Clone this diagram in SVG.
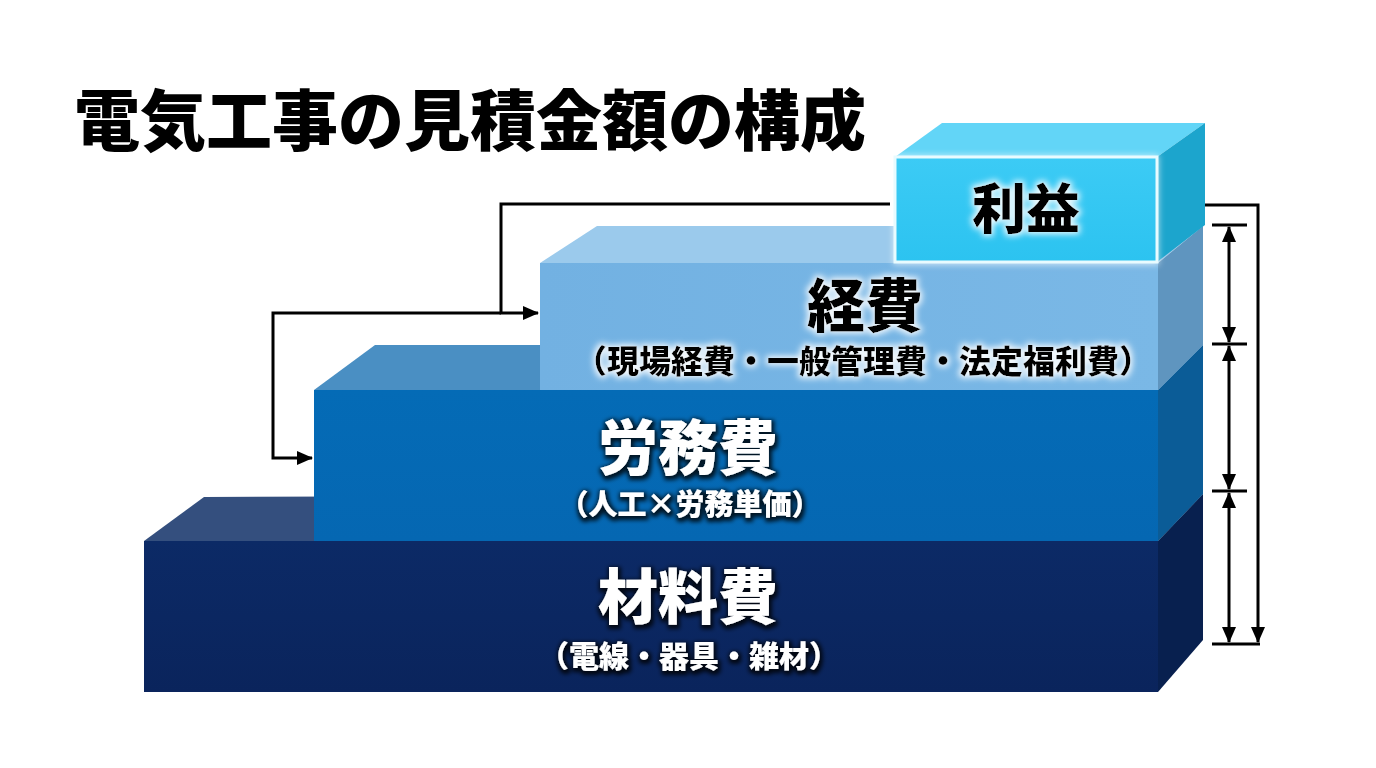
<svg xmlns="http://www.w3.org/2000/svg" width="1376" height="768" viewBox="0 0 1376 768">
<style>
.jp{font-family:"Noto Sans CJK JP","Noto Sans",sans-serif;font-weight:900;text-anchor:middle}
.blk{fill:#000}
.wht{fill:#fff}
.ln{fill:none;stroke:#000;stroke-width:3}
</style>
<defs>
<marker id="ah" viewBox="0 0 16 14" refX="15" refY="7" markerWidth="16" markerHeight="14" markerUnits="userSpaceOnUse" orient="auto-start-reverse">
<path d="M0,0 L16,7 L0,14 z" fill="#000"/>
</marker>
<filter id="glowW" x="-20%" y="-40%" width="140%" height="180%">
<feMorphology in="SourceAlpha" operator="dilate" radius="2" result="d"/>
<feGaussianBlur in="d" stdDeviation="3" result="b"/>
<feFlood flood-color="#ffffff" flood-opacity="0.9"/>
<feComposite in2="b" operator="in" result="g"/>
<feMerge><feMergeNode in="g"/><feMergeNode in="SourceGraphic"/></feMerge>
</filter>
<filter id="shadowD" x="-20%" y="-40%" width="140%" height="180%">
<feMorphology in="SourceAlpha" operator="dilate" radius="1.5" result="d"/>
<feGaussianBlur in="d" stdDeviation="2" result="b"/>
<feOffset in="b" dx="1" dy="2" result="o"/>
<feFlood flood-color="#000000" flood-opacity="0.8"/>
<feComposite in2="o" operator="in" result="g"/>
<feMerge><feMergeNode in="g"/><feMergeNode in="SourceGraphic"/></feMerge>
</filter>
<filter id="boxGlow" x="-10%" y="-20%" width="120%" height="140%">
<feGaussianBlur in="SourceGraphic" stdDeviation="3"/>
</filter>
<linearGradient id="gMatF" x1="0" y1="0" x2="0" y2="1"><stop offset="0" stop-color="#0c2a66"/><stop offset="1" stop-color="#0a245c"/></linearGradient>
<linearGradient id="gLabF" x1="0" y1="0" x2="0" y2="1"><stop offset="0" stop-color="#046bb6"/><stop offset="1" stop-color="#0567b2"/></linearGradient>
<linearGradient id="gKeiF" x1="0" y1="0" x2="1" y2="0"><stop offset="0" stop-color="#72b1e2"/><stop offset="1" stop-color="#7ab8e6"/></linearGradient>
<linearGradient id="gProF" x1="0" y1="0" x2="0" y2="1"><stop offset="0" stop-color="#3ccbf5"/><stop offset="1" stop-color="#2cc3f0"/></linearGradient>
</defs>
<rect width="1376" height="768" fill="#ffffff"/>

<text id="title" class="jp blk" x="470" y="145" font-size="66" text-anchor="middle">電気工事の見積金額の構成</text>

<g id="material">
<polygon points="144,541 204,497 1203,494 1158,541" fill="#344f7e"/>
<polygon points="1158,541 1203,494 1203,640 1158,692" fill="#08204f"/>
<rect x="144" y="541" width="1014" height="151" fill="url(#gMatF)"/>
<text class="jp wht" x="688" y="619" font-size="60" filter="url(#shadowD)">材料費</text>
<text class="jp wht" x="689" y="667" font-size="30" filter="url(#shadowD)">（電線・器具・雑材）</text>
</g>

<g id="labor">
<polygon points="314,390 375,345 1203,345 1158,390" fill="#4a8fc3"/>
<polygon points="1158,390 1203,345 1203,494 1158,541" fill="#0b5c97"/>
<rect x="314" y="390" width="844" height="151" fill="url(#gLabF)"/>
<text class="jp wht" x="688" y="470" font-size="60" filter="url(#shadowD)">労務費</text>
<text class="jp wht" x="690" y="515" font-size="29" filter="url(#shadowD)">（人工×労務単価）</text>
</g>

<g id="keihi">
<polygon points="540,263 597,226 1203,226 1158,263" fill="#9bcaec"/>
<polygon points="1158,263 1203,226 1203,345 1158,390" fill="#5f95bf"/>
<rect x="540" y="263" width="618" height="127" fill="url(#gKeiF)"/>
<text class="jp blk" x="865" y="327" font-size="58" filter="url(#glowW)">経費</text>
<text class="jp blk" x="863" y="373" font-size="32" filter="url(#glowW)">（現場経費・一般管理費・法定福利費）</text>
</g>

<g id="profit">
<polygon points="895,157 942,123 1205,123 1157,157" fill="#62d5f7"/>
<polygon points="1157,157 1205,123 1205,225 1157,262" fill="#1ca5cd"/>
<rect x="893" y="155" width="266" height="110" fill="#ffffff" opacity="0.6" filter="url(#boxGlow)"/>
<rect x="895" y="157" width="262" height="105" fill="url(#gProF)" stroke="#e8fbff" stroke-width="3"/>
<text class="jp blk" x="1026" y="229" font-size="54" filter="url(#glowW)">利益</text>
</g>

<g id="connectors">
<path class="ln" d="M890,204 H501 V313 H538" marker-end="url(#ah)"/>
<path class="ln" d="M501,313 H273 V458 H312" marker-end="url(#ah)"/>
<path class="ln" d="M1205,205 H1258 V642" marker-end="url(#ah)"/>
<line class="ln" x1="1212" y1="225" x2="1247" y2="225"/>
<line class="ln" x1="1212" y1="344" x2="1247" y2="344"/>
<line class="ln" x1="1212" y1="491" x2="1247" y2="491"/>
<line class="ln" x1="1212" y1="644" x2="1260" y2="644"/>
<line class="ln" x1="1229" y1="227" x2="1229" y2="342" marker-start="url(#ah)" marker-end="url(#ah)"/>
<line class="ln" x1="1229" y1="346" x2="1229" y2="489" marker-start="url(#ah)" marker-end="url(#ah)"/>
<line class="ln" x1="1229" y1="493" x2="1229" y2="642" marker-start="url(#ah)" marker-end="url(#ah)"/>
</g>
</svg>
